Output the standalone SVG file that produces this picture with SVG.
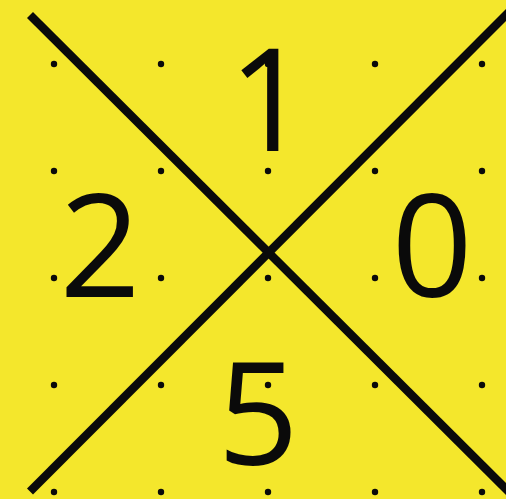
<svg xmlns="http://www.w3.org/2000/svg" width="506" height="499" viewBox="0 0 506 499">
<style>
.dot{fill:#0a0a0a}
.num{font-family:"Open Sans","Noto Sans",sans-serif;font-size:142px;fill:#0a0a0a;text-anchor:middle}
.ln{stroke:#0a0a0a;stroke-width:8.5;stroke-linecap:butt;fill:none}
</style>
<rect width="506" height="499" fill="#F4E72C"/>
<g id="dots">
<circle class="dot" cx="54" cy="64" r="3.2"/><circle class="dot" cx="161" cy="64" r="3.2"/><circle class="dot" cx="268" cy="64" r="3.2"/><circle class="dot" cx="375" cy="64" r="3.2"/><circle class="dot" cx="482" cy="64" r="3.2"/>
<circle class="dot" cx="54" cy="171" r="3.2"/><circle class="dot" cx="161" cy="171" r="3.2"/><circle class="dot" cx="268" cy="171" r="3.2"/><circle class="dot" cx="375" cy="171" r="3.2"/><circle class="dot" cx="482" cy="171" r="3.2"/>
<circle class="dot" cx="54" cy="278" r="3.2"/><circle class="dot" cx="161" cy="278" r="3.2"/><circle class="dot" cx="268" cy="278" r="3.2"/><circle class="dot" cx="375" cy="278" r="3.2"/><circle class="dot" cx="482" cy="278" r="3.2"/>
<circle class="dot" cx="54" cy="385" r="3.2"/><circle class="dot" cx="161" cy="385" r="3.2"/><circle class="dot" cx="268" cy="385" r="3.2"/><circle class="dot" cx="375" cy="385" r="3.2"/><circle class="dot" cx="482" cy="385" r="3.2"/>
<circle class="dot" cx="54" cy="492" r="3.2"/><circle class="dot" cx="161" cy="492" r="3.2"/><circle class="dot" cx="268" cy="492" r="3.2"/><circle class="dot" cx="375" cy="492" r="3.2"/><circle class="dot" cx="482" cy="492" r="3.2"/>
</g>
<g id="connectors">
<line class="ln" x1="30" y1="15" x2="520" y2="503"/>
<line class="ln" x1="30" y1="491.5" x2="522" y2="-1"/>
</g>
<g id="n1"><text class="num" x="269" y="151">1</text></g>
<g id="n2"><text class="num" x="100" y="297">2</text></g>
<g id="n0"><text class="num" x="432" y="297">0</text></g>
<g id="n5"><text class="num" x="258" y="465">5</text></g>
</svg>
